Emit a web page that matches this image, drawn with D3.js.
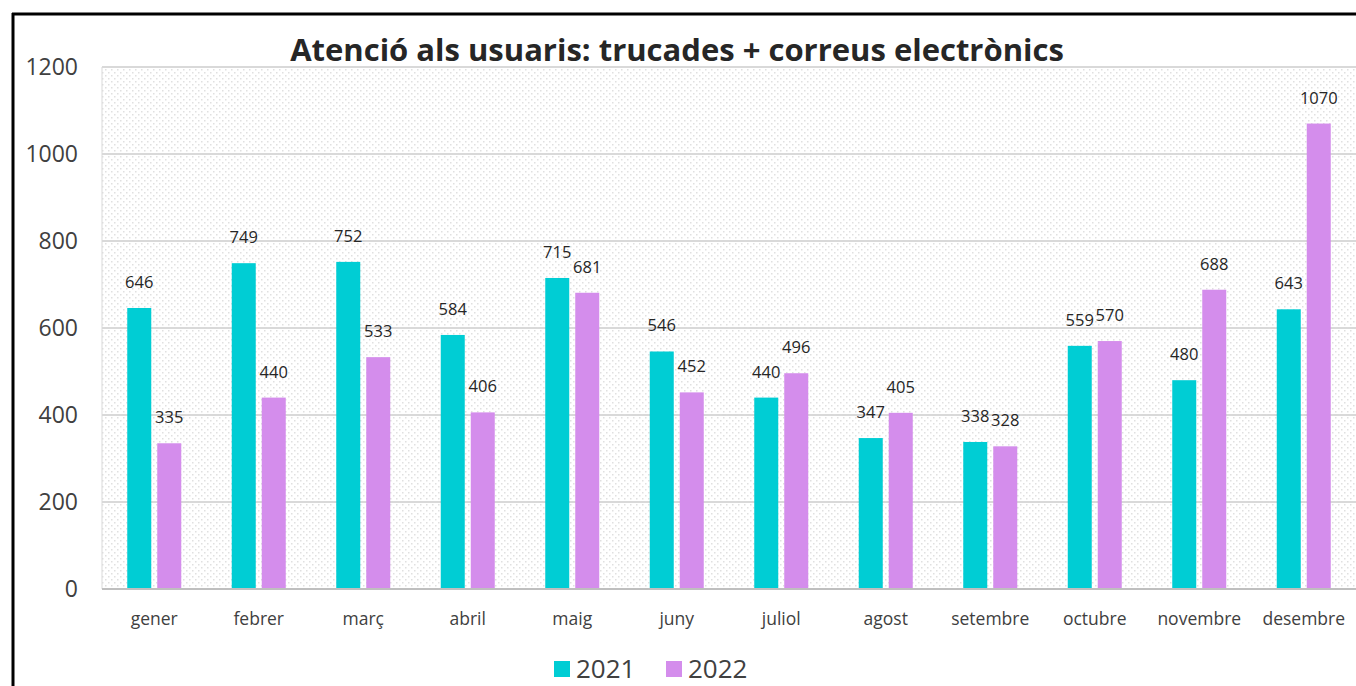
<!DOCTYPE html>
<meta charset="utf-8">
<style>
body { margin: 0; background: #fff; }
text { font-family: "Open Sans", "Noto Sans", sans-serif; fill: #404040; }
.title { font-weight: bold; font-size: 31px; fill: #262626; text-anchor: middle; }
.ylab { font-size: 23px; text-anchor: end; }
.xlab { font-size: 17.5px; text-anchor: middle; }
.val { font-size: 16.5px; text-anchor: middle; fill: #262626; }
.leg { font-size: 26px; }
</style>
<body>
<script src="https://cdn.jsdelivr.net/npm/d3@7"></script>
<script>

var months = ["gener", "febrer", "març", "abril", "maig", "juny", "juliol", "agost", "setembre", "octubre", "novembre", "desembre"];
var v2021 = [646, 749, 752, 584, 715, 546, 440, 347, 338, 559, 480, 643];
var v2022 = [335, 440, 533, 406, 681, 452, 496, 405, 328, 570, 688, 1070];
var series = ["2021", "2022"];
var colors = ["#00CDD4", "#D48DEC"];
var yTicks = [0, 200, 400, 600, 800, 1000, 1200];

var width = 1356, height = 686;
var plotL = 102, plotR = 1356, plotT = 67, plotB = 589;

var svg = d3.select("body").append("svg")
    .attr("width", width)
    .attr("height", height);

var defs = svg.append("defs");
var pat = defs.append("pattern")
    .attr("id", "dots")
    .attr("width", 6).attr("height", 6)
    .attr("patternUnits", "userSpaceOnUse");
pat.append("rect").attr("width", 6).attr("height", 6).attr("fill", "#fff");
pat.append("rect").attr("x", 0).attr("y", 0).attr("width", 1.5).attr("height", 1.5).attr("fill", "#e0e0e0");
pat.append("rect").attr("x", 3).attr("y", 3).attr("width", 1.5).attr("height", 1.5).attr("fill", "#e0e0e0");

// chart frame
svg.append("line").attr("x1", 13).attr("x2", 13).attr("y1", 13).attr("y2", height)
    .attr("stroke", "#000").attr("stroke-width", 3);
svg.append("line").attr("x1", 12).attr("x2", width).attr("y1", 14).attr("y2", 14)
    .attr("stroke", "#000").attr("stroke-width", 3);

var x = d3.scaleBand().domain(months).range([plotL, plotR]);
var y = d3.scaleLinear().domain([0, 1200]).range([plotB, plotT]);

svg.append("rect")
    .attr("x", plotL).attr("y", plotT)
    .attr("width", plotR - plotL).attr("height", plotB - plotT)
    .attr("fill", "url(#dots)");

svg.append("line").attr("x1", plotL).attr("x2", plotL).attr("y1", plotT).attr("y2", plotB)
    .attr("stroke", "#d9d9d9").attr("stroke-width", 1);

svg.selectAll(".grid")
    .data(yTicks.slice(1))
  .enter().append("line")
    .attr("x1", plotL).attr("x2", plotR)
    .attr("y1", function(d) { return y(d); })
    .attr("y2", function(d) { return y(d); })
    .attr("stroke", "#d9d9d9").attr("stroke-width", 2);

svg.selectAll(".ylab")
    .data(yTicks)
  .enter().append("text")
    .attr("class", "ylab")
    .attr("x", 78)
    .attr("y", function(d) { return y(d); })
    .attr("dy", "0.36em")
    .text(function(d) { return d; });

svg.append("text").attr("class", "title")
    .attr("x", 677).attr("y", 61)
    .text("Atenció als usuaris: trucades + correus electrònics");

var barW = 24, gap = 6;
var data = [v2021, v2022];

data.forEach(function(vals, si) {
  var off = si === 0 ? -gap / 2 - barW : gap / 2;
  svg.selectAll(".bar" + si)
      .data(vals)
    .enter().append("rect")
      .attr("x", function(d, i) { return x(months[i]) + x.bandwidth() / 2 + off; })
      .attr("y", function(d) { return y(d); })
      .attr("width", barW)
      .attr("height", function(d) { return y(0) - y(d); })
      .attr("fill", colors[si]);
  svg.selectAll(".val" + si)
      .data(vals)
    .enter().append("text")
      .attr("class", "val")
      .attr("x", function(d, i) { return x(months[i]) + x.bandwidth() / 2 + off + barW / 2; })
      .attr("y", function(d) { return y(d) - 20; })
      .text(function(d) { return d; });
});

svg.append("line").attr("x1", plotL).attr("x2", plotR).attr("y1", plotB).attr("y2", plotB)
    .attr("stroke", "#bfbfbf").attr("stroke-width", 2);

svg.selectAll(".xlab")
    .data(months)
  .enter().append("text")
    .attr("class", "xlab")
    .attr("x", function(d) { return x(d) + x.bandwidth() / 2; })
    .attr("y", 625)
    .text(function(d) { return d; });

var legX = [554, 666];
series.forEach(function(s, i) {
  svg.append("rect").attr("x", legX[i]).attr("y", 661).attr("width", 16).attr("height", 16)
      .attr("fill", colors[i]);
  svg.append("text").attr("class", "leg")
      .attr("x", legX[i] + 22).attr("y", 678).text(s);
});

</script>
